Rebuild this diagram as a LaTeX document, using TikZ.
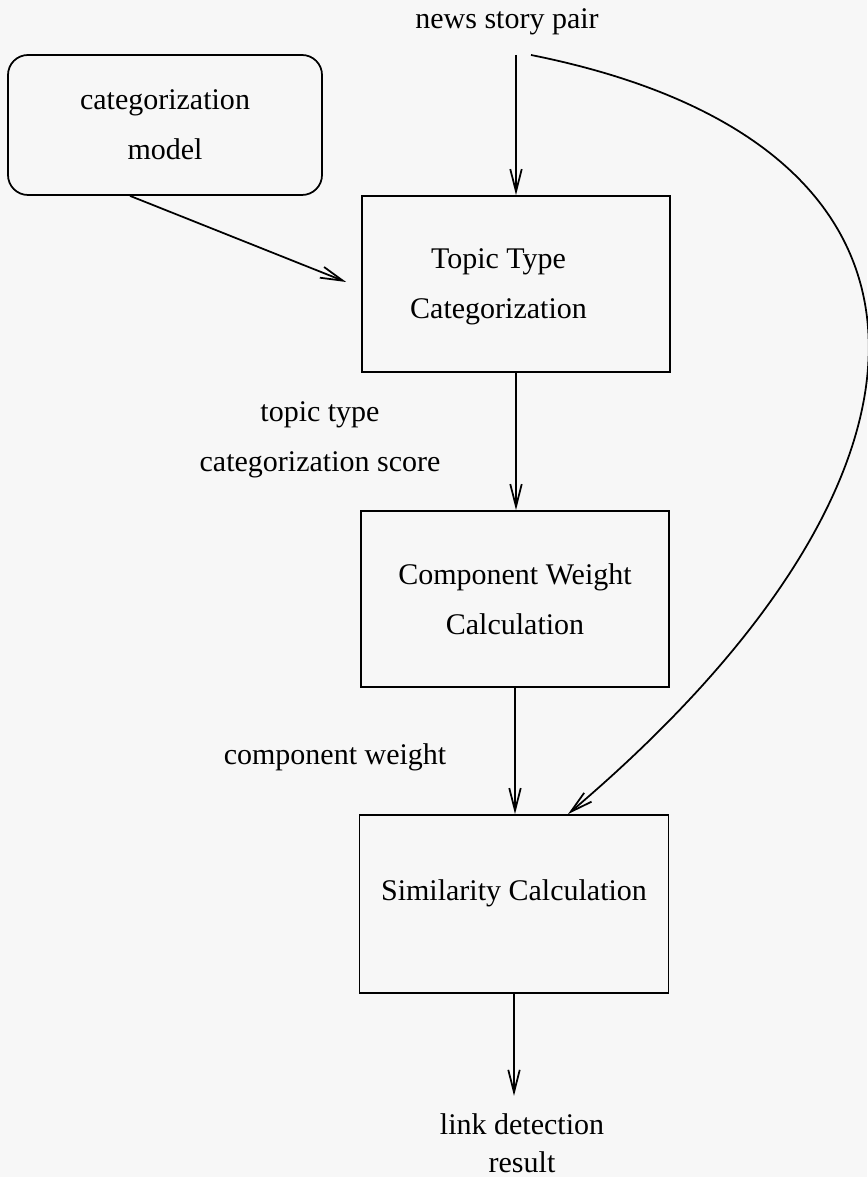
\documentclass[tikz,border=0pt]{standalone}
\usepackage{fontspec}
\setmainfont{Liberation Serif}
\usetikzlibrary{arrows.meta,calc}

\begin{document}
\begin{tikzpicture}[
    x=0.4pt, y=-0.4pt,
    font=\fontsize{12}{20}\selectfont,
    line width=0.7pt,
    flow/.style={-{Straight Barb[length=9pt,width=4.6pt,line width=0.7pt]}},
    stage/.style={draw, rectangle, minimum width=123.2pt, minimum height=70.4pt,
                  align=center, inner sep=0pt},
    source/.style={draw, rectangle, rounded corners=8pt, minimum width=125.6pt,
                   minimum height=56pt, align=center, inner sep=0pt},
    tag/.style={align=center, inner sep=0pt}
  ]
  % page
  \fill[white!97!black] (0,0) rectangle (867,1177);
  \useasboundingbox (0,0) rectangle (867,1177);

  % inputs
  \node[tag] (news) at (507,22) {news story pair};
  \node[source] (model) at (165,125) {categorization\\model};

  % processing stages
  \node[stage, align=none] (topic) at (516,284)
        {\begin{tabular}{@{}c@{}}Topic Type\\Categorization\end{tabular}\hspace*{14pt}};
  \node[stage] (comp)  at (515,599) {Component Weight\\Calculation};
  \node[stage, minimum width=123.6pt, minimum height=71.2pt] (sim) at (514,904)
        {\raisebox{4.4pt}[\height][\depth]{Similarity Calculation}};

  % intermediate results
  \node[tag] (score)  at (320,440) {topic type\\categorization score};
  \node[tag] (weight) at (335,757) {component weight};
  \node[tag, font=\fontsize{12}{15}\selectfont] (result) at (522,1143)
        {link detection\\result};

  % connector ends
  \coordinate (newsout) at (516,55);
  \coordinate (pairout) at (531,55);
  \coordinate (modelout) at ($(model.south)+(-35,0)$);
  \coordinate (topicin) at ($(topic.west)+(-15,-2)$);
  \coordinate (simin)   at ($(sim.north)+(54,0)$);
  \coordinate (resultin) at ($(sim.south)+(0,102)$);

  % connectors
  \draw[flow] (newsout) -- (newsout |- topic.north);
  \draw[flow] (modelout) -- (topicin);
  \draw[flow] (topic.south) -- (topic.south |- comp.north);
  \draw[flow] (comp.south) -- (comp.south |- sim.north);
  \draw[flow] (pairout) .. controls (981,145) and (968,475) .. (simin);
  \draw[flow] (sim.south) -- (resultin);
\end{tikzpicture}
\end{document}
